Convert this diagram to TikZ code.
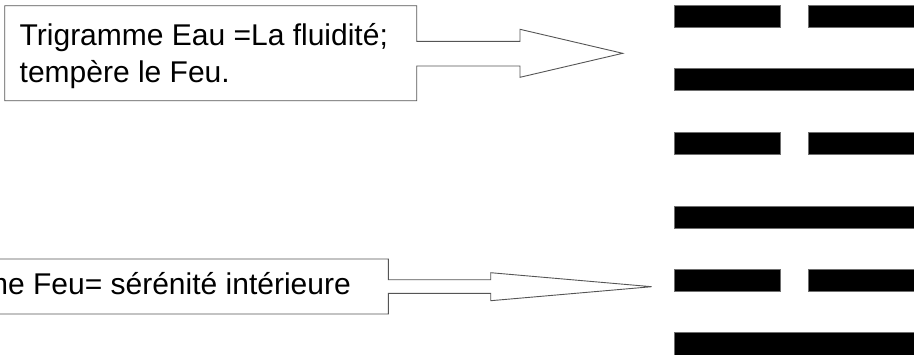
\documentclass[tikz,border=0pt]{standalone}
\usepackage{fontspec}
\setmainfont{Liberation Sans}
\definecolor{edge}{RGB}{85,85,85}
\definecolor{baredge}{RGB}{110,110,110}
\begin{document}
\begin{tikzpicture}[x=1pt,y=-1pt,
  outline/.style={draw=edge,line width=0.9pt,fill=white,line join=miter},
  label/.style={inner sep=0pt,font=\fontsize{30}{37}\selectfont},
  bar/.style={fill=black,draw=baredge,line width=0.6pt}]
\useasboundingbox (0,0) rectangle (914,354);
\clip (0,0) rectangle (914,354);
% upper box with block arrow
\draw[outline] (416.7,41.3) -- (416.7,5.7) -- (4.7,5.7) -- (4.7,100.7) -- (416.7,100.7) -- (416.7,66)
  -- (520,66) -- (520,77.3) -- (622.7,53.3) -- (520,29.3) -- (520,41.3) -- cycle;
\node[label,anchor=base west] (eau) at (19.5,45)
  {\begin{tabular}[t]{@{}l@{}}Trigramme Eau =La fluidité;\\tempère le Feu.\end{tabular}};
% lower box with block arrow
\draw[outline] (388.3,279.7) -- (388.3,259) -- (-20,259) -- (-20,314) -- (388.3,314) -- (388.3,293.3)
  -- (490.7,293.3) -- (490.7,300.7) -- (651.7,286.7) -- (490.7,272.7) -- (490.7,279.7) -- cycle;
\node[label,anchor=base east] (feu) at (351,294) {Trigramme Feu= sérénité intérieure};
% hexagram
\foreach \t/\b/\broken [count=\i] in {5.3/27.3/1, 68.3/90/0, 132.3/154.3/1, 206.7/228.3/0, 269.3/291/1, 332.3/358/0}{
  \ifnum\broken=1
    \path[bar] (674,\t) rectangle (780,\b);
    \path[bar] (808,\t) rectangle (918,\b);
  \else
    \path[bar] (674,\t) rectangle (918,\b);
  \fi
}
\end{tikzpicture}
\end{document}
